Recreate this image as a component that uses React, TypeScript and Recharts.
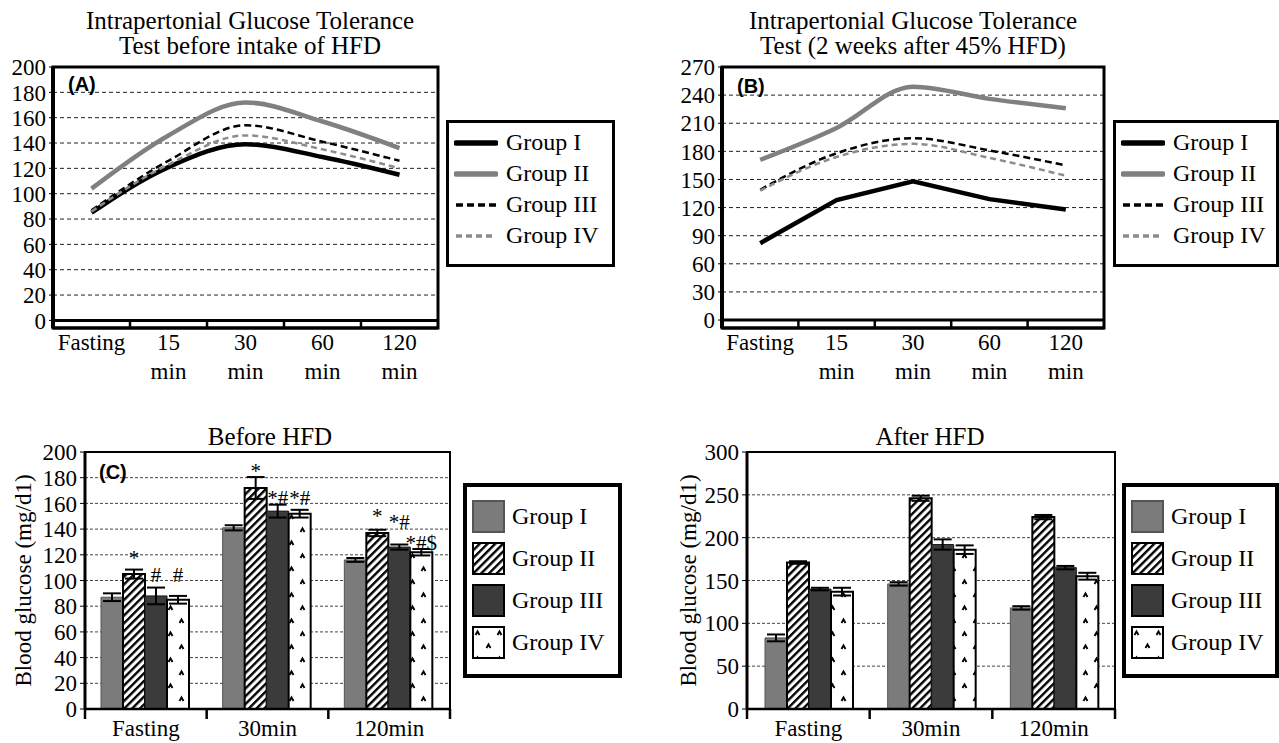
import React from 'react';
import {
  LineChart,
  Line,
  BarChart,
  Bar,
  XAxis,
  YAxis,
  CartesianGrid,
  ReferenceArea,
  ReferenceLine,
  ErrorBar,
  LabelList,
  Legend,
} from 'recharts';

const SERIF = '"Liberation Serif", "Times New Roman", serif';
const SANS = '"Liberation Sans", Arial, sans-serif';

const GROUP_KEYS = ['g1', 'g2', 'g3', 'g4'];
const GROUP_NAMES = ['Group I', 'Group II', 'Group III', 'Group IV'];

// IPGTT curves, panels A and B
const CURVE_TIMES = ['Fasting', '15 min', '30 min', '60 min', '120 min'];

const A_GROUP1 = [85, 121, 139, 129, 115];
const A_GROUP2 = [104, 146, 172, 157, 136];
const A_GROUP3 = [87, 126, 154, 141, 126];
const A_GROUP4 = [86, 123, 146, 135, 120];
const A_TICKS = [0, 20, 40, 60, 80, 100, 120, 140, 160, 180, 200];

const B_GROUP1 = [82, 128, 148, 129, 118];
const B_GROUP2 = [171, 205, 249, 236, 226];
const B_GROUP3 = [139, 178, 194, 181, 165];
const B_GROUP4 = [138, 174, 188, 173, 154];
const B_TICKS = [0, 30, 60, 90, 120, 150, 180, 210, 240, 270];

// blood glucose bars, panels C and D
const BAR_TIMES = ['Fasting', '30min', '120min'];

const C_GROUP1 = [87, 141, 116];
const C_GROUP2 = [105, 172, 137];
const C_GROUP3 = [88, 154, 126];
const C_GROUP4 = [85, 152, 122];
const C_ERR1 = [3, 2, 1.5];
const C_ERR2 = [3.5, 8.5, 2.5];
const C_ERR3 = [6.5, 5, 2];
const C_ERR4 = [3, 3, 2.5];
const C_TICKS = [0, 20, 40, 60, 80, 100, 120, 140, 160, 180, 200];

// significance marks and the value level of their baseline
const C_MARK2 = ['*', '*', '*'];
const C_MARK2_AT = [112, 180, 145];
const C_MARK3 = ['#', '*#', '*#'];
const C_MARK3_AT = [99, 159, 140];
const C_MARK4 = ['#', '*#', '*#$'];
const C_MARK4_AT = [99, 159, 124];

const D_GROUP1 = [83, 146, 118];
const D_GROUP2 = [171, 246, 224];
const D_GROUP3 = [140, 192, 165];
const D_GROUP4 = [137, 186, 155];
const D_ERR1 = [4, 2, 2];
const D_ERR2 = [1.5, 3, 2.5];
const D_ERR3 = [1.5, 6, 2];
const D_ERR4 = [4.5, 5, 4];
const D_TICKS = [0, 50, 100, 150, 200, 250, 300];

const LINE_STYLES = [
  { stroke: '#000', width: 4.5, dash: undefined as string | undefined },
  { stroke: '#808080', width: 4.5, dash: undefined as string | undefined },
  { stroke: '#000', width: 2.5, dash: '7 4' },
  { stroke: '#8c8c8c', width: 2.5, dash: '6 4' },
];

const BAR_STROKES = ['#555', '#000', '#1a1a1a', '#000'];
const BAR_STROKE_W = [1, 2, 1, 2];
const barFills = (id: string) => ['#7b7b7b', `url(#hatch${id})`, '#3b3b3b', `url(#caret${id})`];

const curveRows = (g: number[][]) =>
  CURVE_TIMES.map((t, i) => ({ time: t, g1: g[0][i], g2: g[1][i], g3: g[2][i], g4: g[3][i] }));

const barRows = (g: number[][], e: number[][]) =>
  BAR_TIMES.map((t, i) => ({
    time: t,
    g1: g[0][i], g2: g[1][i], g3: g[2][i], g4: g[3][i],
    g1Err: e[0][i], g2Err: e[1][i], g3Err: e[2][i], g4Err: e[3][i],
  }));

function CurveTick(props: any) {
  const { x, y, payload, index, bandWidth, drop } = props;
  const words = String(payload.value).split(' ');
  const bx = x - bandWidth / 2;
  return (
    <g>
      {index > 0 && <line x1={bx} x2={bx} y1={y - drop} y2={y} stroke="#000" strokeWidth={2.5} />}
      {words.map((w, i) => (
        <text key={i} x={x} y={y + 22 + i * 29} textAnchor="middle" fontFamily={SERIF} fontSize={23} fill="#000">
          {w}
        </text>
      ))}
    </g>
  );
}

function BarTick(props: any) {
  const { x, y, payload, index, bandWidth, count } = props;
  const left = x - bandWidth / 2;
  return (
    <g>
      <line x1={left} x2={left} y1={y} y2={y + 10} stroke="#000" strokeWidth={2.5} />
      {index === count - 1 && (
        <line x1={left + bandWidth} x2={left + bandWidth} y1={y} y2={y + 10} stroke="#000" strokeWidth={2.5} />
      )}
      <text x={x} y={y + 27} textAnchor="middle" fontFamily={SERIF} fontSize={23} fill="#000">
        {payload.value}
      </text>
    </g>
  );
}

function CurveLegend({ payload }: any) {
  const items = (payload ?? []) as any[];
  return (
    <div style={{ boxSizing: 'border-box', width: '100%', height: '100%', border: '3px solid #000', background: '#fff', paddingTop: 4 }}>
      {items.map((e, i) => {
        const s = LINE_STYLES[GROUP_KEYS.indexOf(e.dataKey)] ?? LINE_STYLES[0];
        return (
          <div key={i} style={{ display: 'flex', alignItems: 'center', height: 31 }}>
            <svg width={44} height={12} style={{ marginLeft: 5, marginRight: 8 }}>
              <line x1={2} x2={42} y1={6} y2={6} stroke={s.stroke} strokeWidth={s.width + 1} strokeDasharray={s.dash} strokeLinecap={s.dash ? 'butt' : 'round'} />
            </svg>
            <span style={{ fontFamily: SERIF, fontSize: 24, lineHeight: '31px', color: '#000' }}>{e.value}</span>
          </div>
        );
      })}
    </div>
  );
}

function BarLegend({ payload, id }: any) {
  const items = (payload ?? []) as any[];
  const fills = barFills(id);
  return (
    <div style={{ boxSizing: 'border-box', width: '100%', height: '100%', border: '4px solid #000', background: '#fff', paddingTop: 8 }}>
      {items.map((e, i) => {
        const k = Math.max(0, GROUP_KEYS.indexOf(e.dataKey));
        return (
          <div key={i} style={{ display: 'flex', alignItems: 'center', height: 42 }}>
            <svg width={33} height={33} style={{ marginLeft: 5, marginRight: 7 }}>
              <rect x={1} y={1} width={31} height={31} fill={fills[k]} stroke={k === 0 ? '#555' : '#000'} strokeWidth={2} />
            </svg>
            <span style={{ fontFamily: SERIF, fontSize: 24, lineHeight: '42px', color: '#000' }}>{e.value}</span>
          </div>
        );
      })}
    </div>
  );
}

const markLabel = (values: number[], marks: string[], levels: number[]) => (p: any) => {
  const i = p.index;
  const text = marks[i];
  const vb = p.viewBox ?? p;
  if (!text || vb == null) return null;
  const x = Number(vb.x);
  const y = Number(vb.y);
  const w = Number(vb.width);
  const h = Number(vb.height);
  const perUnit = h / values[i];
  const ty = y + h - levels[i] * perUnit;
  return (
    <text key={`m${i}`} x={x + w / 2} y={ty} textAnchor="middle" fontFamily={SERIF} fontSize={21} fill="#000">
      {text}
    </text>
  );
};

const yTitle = (tx: number) => (p: any) => {
  const vb = p.viewBox ?? { y: 0, height: 0 };
  const cy = vb.y + vb.height / 2;
  return (
    <text x={tx} y={cy} transform={`rotate(-90 ${tx} ${cy})`} textAnchor="middle" dominantBaseline="central" fontFamily={SERIF} fontSize={23} fill="#000">
      Blood glucose (mg/d1)
    </text>
  );
};

type CurveProps = {
  rows: any[];
  ticks: number[];
  floor: number;
  width: number;
  yWidth: number;
  right: number;
  bandWidth: number;
  firstCurve: 'monotone' | 'linear';
  legendLeft: number;
  legendWidth: number;
};

function CurvePanel(p: CurveProps) {
  const max = p.ticks[p.ticks.length - 1];
  return (
    <LineChart width={p.width} height={395} data={p.rows} margin={{ top: 67, right: p.right, bottom: 0, left: 0 }}>
      <CartesianGrid vertical={false} stroke="#222" strokeDasharray="4 3" />
      <XAxis
        dataKey="time"
        scale="band"
        height={67}
        interval={0}
        tickSize={0}
        tickMargin={0}
        tickLine={false}
        axisLine={{ stroke: '#000', strokeWidth: 3 }}
        tick={(t: any) => <CurveTick {...t} bandWidth={p.bandWidth} drop={8} />}
      />
      <YAxis
        width={p.yWidth}
        domain={[p.floor, max]}
        ticks={p.ticks}
        interval={0}
        tickSize={4}
        tickMargin={3}
        axisLine={{ stroke: '#000', strokeWidth: 4 }}
        tickLine={{ stroke: '#000' }}
        tick={{ fontFamily: SERIF, fontSize: 23, fill: '#000' }}
      />
      <ReferenceLine y={0} stroke="#000" strokeWidth={3} />
      <ReferenceArea y1={p.floor} y2={max} fill="none" fillOpacity={0} stroke="#000" strokeWidth={3} />
      {GROUP_KEYS.map((k, i) => (
        <Line
          key={k}
          type={i === 0 ? p.firstCurve : 'monotone'}
          dataKey={k}
          name={GROUP_NAMES[i]}
          stroke={LINE_STYLES[i].stroke}
          strokeWidth={LINE_STYLES[i].width}
          strokeDasharray={LINE_STYLES[i].dash}
          dot={false}
          activeDot={false}
          isAnimationActive={false}
        />
      ))}
      <Legend
        layout="vertical"
        align="center"
        verticalAlign="middle"
        wrapperStyle={{ left: p.legendLeft, top: 120, width: p.legendWidth, height: 147 }}
        content={(lp: any) => <CurveLegend payload={lp.payload} />}
      />
    </LineChart>
  );
}

type BarProps = {
  id: string;
  rows: any[];
  values: number[][];
  ticks: number[];
  width: number;
  yWidth: number;
  right: number;
  bandWidth: number;
  gap: number;
  titleX: number;
  legendLeft: number;
  legendWidth: number;
  marks?: { text: string[]; at: number[] }[];
};

function BarPanel(p: BarProps) {
  const max = p.ticks[p.ticks.length - 1];
  const fills = barFills(p.id);
  return (
    <BarChart
      width={p.width}
      height={363}
      data={p.rows}
      margin={{ top: 72, right: p.right, bottom: 0, left: 0 }}
      barCategoryGap={p.gap}
      barGap={0}
    >
      <defs>
        <pattern id={`hatch${p.id}`} patternUnits="userSpaceOnUse" width={5.5} height={5.5} patternTransform="rotate(45)">
          <rect width={5.5} height={5.5} fill="#fff" />
          <line x1={1.2} y1={0} x2={1.2} y2={5.5} stroke="#000" strokeWidth={2.4} />
        </pattern>
        <pattern id={`caret${p.id}`} patternUnits="userSpaceOnUse" width={22} height={26}>
          <rect width={22} height={26} fill="#fff" />
          <path d="M3.5 9 L5.5 5.5 L7.5 9" stroke="#000" strokeWidth={1.9} fill="none" />
          <path d="M14.5 22 L16.5 18.5 L18.5 22" stroke="#000" strokeWidth={1.9} fill="none" />
        </pattern>
      </defs>
      <CartesianGrid vertical={false} stroke="#444" strokeDasharray="3 2" />
      <XAxis
        dataKey="time"
        height={34}
        interval={0}
        tickSize={0}
        tickMargin={0}
        tickLine={false}
        axisLine={{ stroke: '#000', strokeWidth: 2.5 }}
        tick={(t: any) => <BarTick {...t} bandWidth={p.bandWidth} count={BAR_TIMES.length} />}
      />
      <YAxis
        width={p.yWidth}
        domain={[0, max]}
        ticks={p.ticks}
        interval={0}
        tickSize={5}
        tickMargin={3}
        axisLine={{ stroke: '#000', strokeWidth: 3 }}
        tickLine={{ stroke: '#000' }}
        tick={{ fontFamily: SERIF, fontSize: 23, fill: '#000' }}
        label={yTitle(p.titleX)}
      />
      <ReferenceArea y1={0} y2={max} fill="none" fillOpacity={0} stroke="#000" strokeWidth={2} />
      {GROUP_KEYS.map((k, i) => {
        const m = p.marks ? p.marks[i] : undefined;
        return (
          <Bar
            key={k}
            dataKey={k}
            name={GROUP_NAMES[i]}
            fill={fills[i]}
            stroke={BAR_STROKES[i]}
            strokeWidth={BAR_STROKE_W[i]}
            isAnimationActive={false}
          >
            <ErrorBar dataKey={`${k}Err`} width={9} stroke="#000" strokeWidth={2} direction="y" />
            {m && <LabelList content={markLabel(p.values[i], m.text, m.at)} />}
          </Bar>
        );
      })}
      <Legend
        layout="vertical"
        align="center"
        verticalAlign="middle"
        wrapperStyle={{ left: p.legendLeft, top: 103, width: p.legendWidth, height: 195 }}
        content={(lp: any) => <BarLegend payload={lp.payload} id={p.id} />}
      />
    </BarChart>
  );
}

function Title({ cx, top, lines }: { cx: number; top: number; lines: string[] }) {
  return (
    <div style={{ position: 'absolute', left: cx - 250, top, width: 500, textAlign: 'center', fontFamily: SERIF, fontSize: 25, lineHeight: '25px', color: '#000' }}>
      {lines.map((l) => (
        <div key={l}>{l}</div>
      ))}
    </div>
  );
}

function Tag({ left, top, text }: { left: number; top: number; text: string }) {
  return (
    <div style={{ position: 'absolute', left, top, fontFamily: SANS, fontWeight: 700, fontSize: 20, lineHeight: '22px', color: '#000' }}>
      {text}
    </div>
  );
}

export default function App() {
  const aRows = curveRows([A_GROUP1, A_GROUP2, A_GROUP3, A_GROUP4]);
  const bRows = curveRows([B_GROUP1, B_GROUP2, B_GROUP3, B_GROUP4]);
  const cVals = [C_GROUP1, C_GROUP2, C_GROUP3, C_GROUP4];
  const dVals = [D_GROUP1, D_GROUP2, D_GROUP3, D_GROUP4];
  const cRows = barRows(cVals, [C_ERR1, C_ERR2, C_ERR3, C_ERR4]);
  const dRows = barRows(dVals, [D_ERR1, D_ERR2, D_ERR3, D_ERR4]);
  const cMarks = [
    { text: ['', '', ''], at: [0, 0, 0] },
    { text: C_MARK2, at: C_MARK2_AT },
    { text: C_MARK3, at: C_MARK3_AT },
    { text: C_MARK4, at: C_MARK4_AT },
  ];

  return (
    <div style={{ position: 'absolute', left: 0, top: 0, width: 1279, height: 743, background: '#fff', overflow: 'hidden' }}>
      <div style={{ position: 'absolute', left: 0, top: 380 }}>
        <BarPanel id="C" rows={cRows} values={cVals} ticks={C_TICKS} width={640} yWidth={85} right={190} bandWidth={121.67} gap={16} titleX={23} legendLeft={463} legendWidth={159} marks={cMarks} />
      </div>
      <div style={{ position: 'absolute', left: 640, top: 380 }}>
        <BarPanel id="D" rows={dRows} values={dVals} ticks={D_TICKS} width={639} yWidth={107} right={164} bandWidth={122.67} gap={18} titleX={48} legendLeft={482} legendWidth={157} />
      </div>
      <div style={{ position: 'absolute', left: 0, top: 0 }}>
        <CurvePanel rows={aRows} ticks={A_TICKS} floor={-6} width={640} yWidth={53} right={202} bandWidth={77} firstCurve="monotone" legendLeft={446} legendWidth={169} />
      </div>
      <div style={{ position: 'absolute', left: 640, top: 0 }}>
        <CurvePanel rows={bRows} ticks={B_TICKS} floor={-8.5} width={639} yWidth={82} right={175} bandWidth={76.4} firstCurve="linear" legendLeft={473} legendWidth={166} />
      </div>

      <Title cx={250} top={8} lines={['Intrapertonial Glucose Tolerance', 'Test before intake of HFD']} />
      <Title cx={913} top={8} lines={['Intrapertonial Glucose Tolerance', 'Test (2 weeks after 45% HFD)']} />
      <Title cx={270} top={424} lines={['Before HFD']} />
      <Title cx={930} top={424} lines={['After HFD']} />

      <Tag left={68} top={73} text="(A)" />
      <Tag left={737} top={75} text="(B)" />
      <Tag left={99} top={461} text="(C)" />
    </div>
  );
}
